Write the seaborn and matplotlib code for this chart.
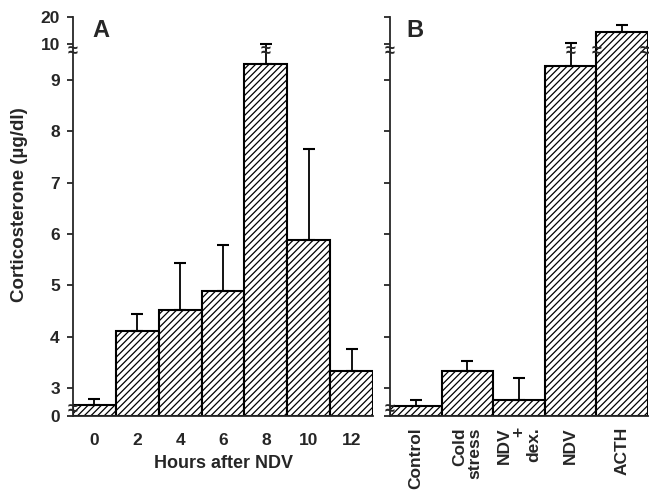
import numpy as np
import matplotlib
matplotlib.use('Agg')
import matplotlib.pyplot as plt
import matplotlib.transforms as mtransforms
from matplotlib.ticker import FixedLocator
import seaborn as sns

sns.set_style('ticks')
plt.rcParams['font.family'] = ['Liberation Sans', 'DejaVu Sans']
plt.rcParams['font.weight'] = 'bold'
plt.rcParams['hatch.linewidth'] = 0.9

# Panel A: hours after NDV
hours = ['0', '2', '4', '6', '8', '10', '12']
hours_mean = [1.2, 4.12, 4.51, 4.88, 9.44, 5.88, 3.34]
hours_err = [0.6, 0.32, 0.93, 0.9, 0.66, 1.78, 0.42]

# Panel B: treatments
groups = ['Control', 'Cold\nstress', 'NDV\n+\ndex.', 'NDV', 'ACTH']
groups_mean = [1.1, 3.33, 1.73, 9.4, 14.3]
groups_err = [0.6, 0.2, 1.47, 0.86, 2.8]

yticks = [0, 3, 4, 5, 6, 7, 8, 9, 10, 20]

# broken axis: piecewise linear scale
knot_vals = [0, 3, 9, 10, 20]
knot_pos = [0, 28, 336, 372, 399]

def fwd(v):
    return np.interp(v, knot_vals, knot_pos)

def inv(p):
    return np.interp(p, knot_pos, knot_vals)

fig = plt.figure(figsize=(6.49, 4.91), dpi=100)
axA = fig.add_axes([73 / 649, 75 / 491, 300 / 649, 399 / 491])
axB = fig.add_axes([390 / 649, 75 / 491, 258 / 649, 399 / 491])

bar_kw = dict(color='white', edgecolor='black', linewidth=1.5,
              hatch='/////', width=1.0, saturation=1, errorbar=None)

sns.barplot(x=hours, y=hours_mean, ax=axA, **bar_kw)
sns.barplot(x=groups, y=groups_mean, ax=axB, **bar_kw)

for ax, m, e in [(axA, hours_mean, hours_err), (axB, groups_mean, groups_err)]:
    ax.errorbar(np.arange(len(m)), m, yerr=[np.zeros(len(m)), e], fmt='none',
                ecolor='black', elinewidth=1.3, capsize=4.3, capthick=1.5, zorder=3)
    ax.set_yscale('function', functions=(fwd, inv))
    ax.set_ylim(0, 20)
    ax.set_xlim(-0.5, len(m) - 0.5)
    ax.yaxis.set_major_locator(FixedLocator(yticks))
    ax.yaxis.set_minor_locator(FixedLocator([]))
    sns.despine(ax=ax)
    for s in ['left', 'bottom']:
        ax.spines[s].set_linewidth(1.3)
    ax.tick_params(axis='y', length=4.5, width=1.3, pad=5, labelsize=12.5)
    ax.tick_params(axis='x', length=0, labelsize=12.5)
    ax.set_xlabel('')
    ax.set_ylabel('')

axA.set_yticklabels([str(t) for t in yticks], fontweight='bold')
axB.set_yticklabels([])
axA.tick_params(axis='x', pad=12)
axA.set_xticks(range(len(hours)))
axA.set_xticklabels(hours, fontweight='bold')
axA.set_xlabel('Hours after NDV', fontsize=13, fontweight='bold', labelpad=5)
axA.set_ylabel('Corticosterone (\u00b5g/dl)', fontsize=13.5, fontweight='bold')
axA.yaxis.set_label_coords(-0.15, 0.53)

axB.set_xticks(range(len(groups)))
axB.set_xticklabels(groups, rotation=90, va='top', ha='center',
                    multialignment='right', fontweight='bold', linespacing=1.0)
axB.tick_params(axis='x', pad=8)

axA.text(0.093, 0.965, 'A', transform=axA.transAxes, fontsize=17,
         fontweight='bold', ha='center', va='center')
axB.text(0.097, 0.965, 'B', transform=axB.transAxes, fontsize=17,
         fontweight='bold', ha='center', va='center')

# break marks
for ax in [axA, axB]:
    tr = mtransforms.blended_transform_factory(ax.transAxes, ax.transData)
    for yb in [9.78, 0.64]:
        ax.text(0, yb, '\u2248', transform=tr, fontsize=13, ha='center',
                va='center', clip_on=False, zorder=5)
axA.text(4, 9.78, '\u2248', fontsize=13, ha='center', va='center', zorder=5)
for xb in [3, 3.5, 4.44]:
    axB.text(xb, 9.78, '\u2248', fontsize=13, ha='center', va='center',
             clip_on=False, zorder=5)

fig.savefig('out.png', dpi=100)
